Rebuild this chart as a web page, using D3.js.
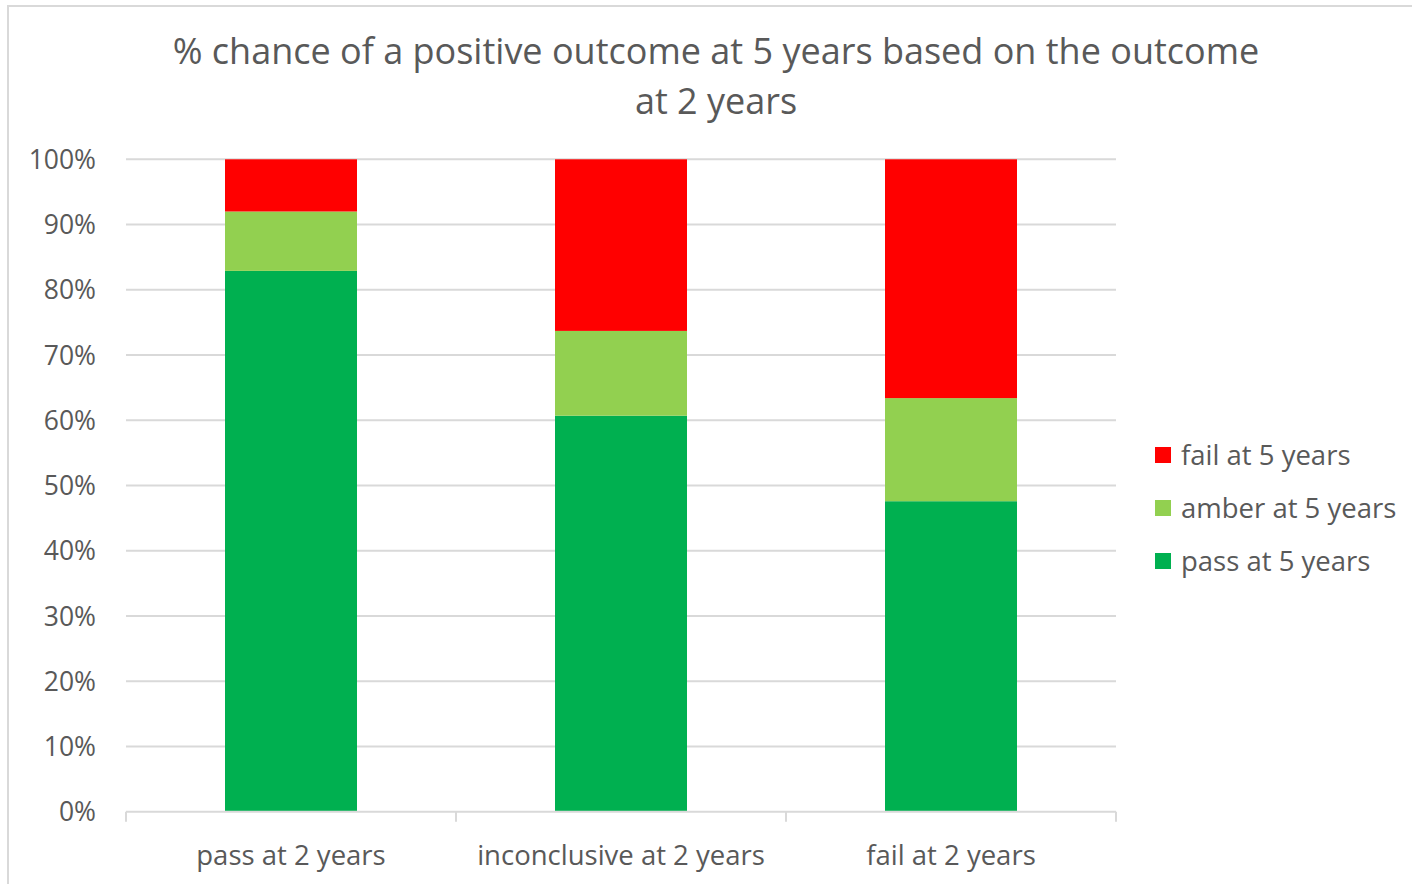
<!DOCTYPE html>
<html>
<head>
<meta charset="utf-8">
<script src="https://cdn.jsdelivr.net/npm/d3@7"></script>
<style>
  body { margin: 0; background: #fff; }
  svg text { font-family: "Open Sans", "Noto Sans", sans-serif; fill: #595959; }
</style>
</head>
<body>
<svg id="chart" width="1412" height="884"></svg>
<script>
// data (percent of each group)
var categories = ['pass at 2 years', 'inconclusive at 2 years', 'fail at 2 years'];
var passAt5 = [82.9, 60.7, 47.6];
var amberAt5 = [9.1, 13.0, 15.8];
var failAt5 = [8.0, 26.3, 36.6];
var seriesNames = ['pass at 5 years', 'amber at 5 years', 'fail at 5 years'];
var seriesColors = ['#00b050', '#92d050', '#ff0000'];
var yTicks = [0, 10, 20, 30, 40, 50, 60, 70, 80, 90, 100];

var svg = d3.select('#chart');

// outer chart frame
svg.append('rect')
  .attr('x', 8).attr('y', 6)
  .attr('width', 1420).attr('height', 900)
  .attr('fill', 'none')
  .attr('stroke', '#d9d9d9')
  .attr('stroke-width', 2);

var plot = { left: 126, right: 1116, top: 159.3, bottom: 811.8 };

var x = d3.scaleBand()
  .domain(categories)
  .range([plot.left, plot.right]);

var y = d3.scaleLinear()
  .domain([0, 100])
  .range([plot.bottom, plot.top]);

// gridlines
svg.append('g').selectAll('line')
  .data(yTicks.slice(1))
  .enter()
  .append('line')
  .attr('x1', plot.left).attr('x2', plot.right)
  .attr('y1', function(d) { return y(d); })
  .attr('y2', function(d) { return y(d); })
  .attr('stroke', '#d9d9d9')
  .attr('stroke-width', 2);

// y labels
svg.append('g').selectAll('text')
  .data(yTicks)
  .enter()
  .append('text')
  .attr('x', 96)
  .attr('y', function(d) { return y(d); })
  .attr('dy', '0.36em')
  .attr('text-anchor', 'end')
  .style('font-size', '26.5px')
  .text(function(d) { return d + '%'; });

// stacked bars
var rows = categories.map(function(c, i) {
  return { cat: c, pass: passAt5[i], amber: amberAt5[i], fail: failAt5[i] };
});
var stack = d3.stack().keys(['pass', 'amber', 'fail']);
var layers = stack(rows);

var barW = x.bandwidth() * 0.4;

svg.append('g').selectAll('g')
  .data(layers)
  .enter()
  .append('g')
  .attr('fill', function(d, i) { return seriesColors[i]; })
  .selectAll('rect')
  .data(function(d) { return d; })
  .enter()
  .append('rect')
  .attr('x', function(d) { return x(d.data.cat) + (x.bandwidth() - barW) / 2; })
  .attr('width', barW)
  .attr('y', function(d) { return y(d[1]); })
  .attr('height', function(d) { return y(d[0]) - y(d[1]); });

// x axis line + ticks
var xAxis = svg.append('g');
xAxis.append('line')
  .attr('x1', plot.left).attr('x2', plot.right)
  .attr('y1', plot.bottom).attr('y2', plot.bottom)
  .attr('stroke', '#d9d9d9').attr('stroke-width', 2);
var edges = categories.map(function(c) { return x(c); }).concat([plot.right]);
xAxis.selectAll('line.tick')
  .data(edges)
  .enter()
  .append('line')
  .attr('class', 'tick')
  .attr('x1', function(d) { return d; }).attr('x2', function(d) { return d; })
  .attr('y1', plot.bottom).attr('y2', plot.bottom + 10)
  .attr('stroke', '#d9d9d9').attr('stroke-width', 2);
xAxis.selectAll('text')
  .data(categories)
  .enter()
  .append('text')
  .attr('x', function(d) { return x(d) + x.bandwidth() / 2; })
  .attr('y', 865)
  .attr('text-anchor', 'middle')
  .style('font-size', '27.5px')
  .text(function(d) { return d; });

// title
var title = svg.append('text')
  .attr('text-anchor', 'middle')
  .style('font-size', '36px');
title.append('tspan').attr('x', 716).attr('y', 64)
  .text('% chance of a positive outcome at 5 years based on the outcome');
title.append('tspan').attr('x', 716).attr('y', 114)
  .text('at 2 years');

// legend (fail on top)
var legendOrder = [2, 1, 0];
var legend = svg.append('g').selectAll('g')
  .data(legendOrder)
  .enter()
  .append('g')
  .attr('transform', function(d, i) { return 'translate(1155,' + (455 + i * 53) + ')'; });
legend.append('rect')
  .attr('x', 0).attr('y', -8)
  .attr('width', 16).attr('height', 16)
  .attr('fill', function(d) { return seriesColors[d]; });
legend.append('text')
  .attr('x', 26).attr('y', 0)
  .attr('dy', '0.36em')
  .style('font-size', '27.5px')
  .text(function(d) { return seriesNames[d]; });
</script>
</body>
</html>
